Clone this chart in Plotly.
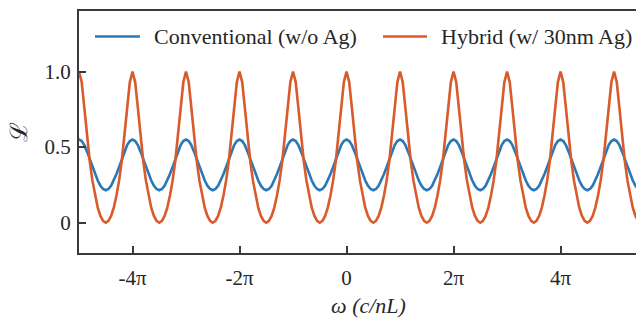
import numpy as np
import plotly.graph_objects as go

# ---------------- data ----------------
# resonance centres, in units of pi
peak_centers_pi = [-5, -4, -3, -2, -1, 0, 1, 2, 3, 4, 5, 6]
# one half-period line profile, offset from a resonance (units of pi)
profile_offsets_pi = [0.0, 0.05, 0.10, 0.15, 0.20, 0.25, 0.30, 0.35, 0.40, 0.45, 0.50]
conventional_profile = [0.550, 0.540, 0.513, 0.470, 0.419, 0.369, 0.322, 0.279, 0.245, 0.223, 0.215]
hybrid_profile = [1.000, 0.930, 0.760, 0.570, 0.410, 0.280, 0.180, 0.100, 0.045, 0.012, 0.000]

series_names = ["Conventional (w/o Ag)", "Hybrid (w/ 30nm Ag)"]
series_colors = ["#2a78b6", "#d95a2b"]

x_tick_values_pi = [-4, -2, 0, 2, 4]
x_tick_labels = ["-4π", "-2π", "0", "2π", "4π"]
y_tick_values = [0, 0.5, 1.0]
y_tick_labels = ["0", "0.5", "1.0"]
x_range_pi = [-5.0, 5.41]
y_range = [-0.2, 1.4]


def build_curve(profile):
    xs, ys = [], []
    for c in peak_centers_pi:
        for o, v in zip(profile_offsets_pi[::-1], profile[::-1]):
            xs.append((c - o) * np.pi)
            ys.append(v)
        for o, v in zip(profile_offsets_pi[1:], profile[1:]):
            xs.append((c + o) * np.pi)
            ys.append(v)
    return xs, ys


FONT = "Liberation Serif, Times New Roman, serif"
TXT = "#262626"
AX = "#3a3a3a"

fig = go.Figure()
for name, prof, col in zip(series_names, [conventional_profile, hybrid_profile], series_colors):
    xs, ys = build_curve(prof)
    fig.add_trace(go.Scatter(x=xs, y=ys, mode="lines", name=name,
                             line=dict(color=col, width=2.6), showlegend=False))

W, H = 636, 321
ML, MR, MT, MB = 79, 0, 11, 68
PW, PH = W - ML - MR, H - MT - MB


def px_x(p):
    return (p - ML) / PW


def px_y(p):
    return (H - MB - p) / PH


# manual legend (line samples + text) to match the reference spacing
legend_items = [(95, 140, 152), (383, 427, 439)]
for (x0, x1, xt), name, col in zip(legend_items, series_names, series_colors):
    fig.add_shape(type="line", xref="paper", yref="paper",
                  x0=px_x(x0), x1=px_x(x1), y0=px_y(36.5), y1=px_y(36.5),
                  line=dict(color=col, width=2.6))
    fig.add_annotation(xref="paper", yref="paper", x=px_x(xt), y=px_y(36.5),
                       xanchor="left", yanchor="middle", showarrow=False,
                       text=name, font=dict(family=FONT, size=22, color=TXT))

fig.update_layout(
    width=W, height=H,
    margin=dict(l=ML, r=MR, t=MT, b=MB, pad=0),
    paper_bgcolor="white", plot_bgcolor="white",
    font=dict(family=FONT, color=TXT),
    showlegend=False,
)
fig.update_xaxes(
    range=[v * np.pi for v in x_range_pi],
    tickvals=[v * np.pi for v in x_tick_values_pi], ticktext=x_tick_labels,
    ticks="inside", ticklen=7, tickwidth=1.5, tickcolor=AX,
    showline=True, linecolor=AX, linewidth=2.2, mirror=True,
    showgrid=False, zeroline=False,
    tickfont=dict(family=FONT, size=21, color=TXT), ticklabelstandoff=5,
    title=dict(text="&nbsp;&nbsp;&nbsp;&nbsp;<i>ω (c/nL)</i>",
               font=dict(family=FONT, size=22, color=TXT), standoff=8),
)
fig.update_yaxes(
    range=y_range,
    tickvals=y_tick_values, ticktext=y_tick_labels,
    ticks="inside", ticklen=7, tickwidth=1.5, tickcolor=AX,
    showline=True, linecolor=AX, linewidth=2.2, mirror=False,
    showgrid=False, zeroline=False,
    tickfont=dict(family=FONT, size=21, color=TXT), ticklabelstandoff=2,
    title=dict(text="ℒ", font=dict(family=FONT, size=24, color=TXT), standoff=10),
)

fig.write_html("out.html")
